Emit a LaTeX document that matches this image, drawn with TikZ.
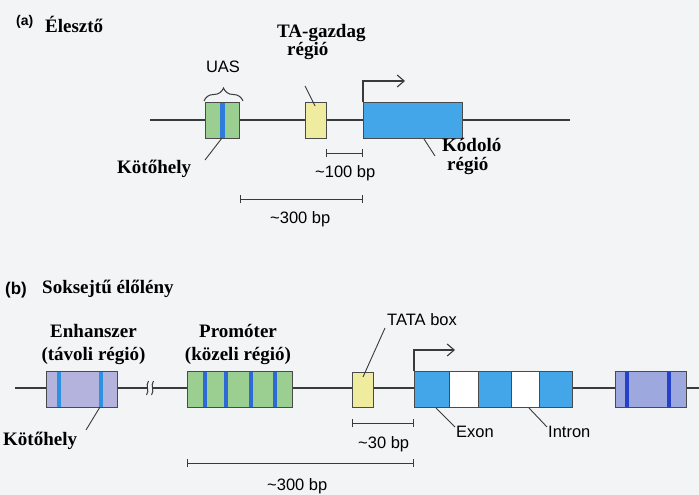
\documentclass[tikz,border=0pt]{standalone}
\usepackage{fontspec}
\setmainfont{Liberation Serif}
\newfontfamily\lsans{Liberation Sans}
\usetikzlibrary{arrows.meta,decorations.pathreplacing}
\definecolor{bg}{HTML}{F3F4F6}
\definecolor{linec}{HTML}{3A3A3A}
\definecolor{boxc}{HTML}{4A4A4A}
\definecolor{grn}{HTML}{9BCF91}
\definecolor{yel}{HTML}{EFEC9F}
\definecolor{cod}{HTML}{42A6E8}
\definecolor{lav}{HTML}{B3B3DD}
\definecolor{lav2}{HTML}{9DA8DE}
\definecolor{stripeA}{HTML}{2F7BDB}
\definecolor{stripeE}{HTML}{2E90E0}
\definecolor{stripeP}{HTML}{2D6AD6}
\definecolor{stripeR}{HTML}{2541C9}
\begin{document}
\begin{tikzpicture}[x=1pt,y=-1pt,
  dna/.style={draw=linec,line width=1.3pt},
  box/.style={draw=boxc,line width=0.9pt,inner sep=0,outer sep=0},
  lbl/.style={font=\fontsize{19}{17}\selectfont\bfseries,inner sep=0},
  slbl/.style={font=\lsans\fontsize{16.5}{19}\selectfont,inner sep=0},
  lead/.style={draw=linec,line width=0.9pt},
  bar/.style={draw=linec,line width=1pt,{Bar[width=8pt]}-{Bar[width=8pt]}},
  tss/.style={draw=linec,line width=1.1pt,-{Straight Barb[length=7pt,width=12pt]}}]
\fill[bg] (0,0) rectangle (699,495);
\useasboundingbox (0,0) rectangle (699,495);

% ---------------- (a) ----------------
\node[font=\lsans\bfseries\fontsize{14}{16}\selectfont,inner sep=0,anchor=base west] (atag) at (16,26) {(a)};
\node[lbl,anchor=base west] (atitle) at (45,33) {Élesztő};

\coordinate (a0) at (150,120);
\coordinate (a1) at (570,120);
\draw[dna] (a0) -- (a1);

\node[box,fill=grn,minimum width=34pt,minimum height=36pt] (uas) at (222.5,120) {};
\fill[stripeA] (220,102) rectangle (225,138);
\draw[boxc,line width=0.9pt] (uas.south west) rectangle (uas.north east);
\node[box,fill=yel,minimum width=21pt,minimum height=36pt] (ta) at (315.5,120) {};
\node[box,fill=cod,minimum width=99pt,minimum height=36pt] (cod) at (412.5,120) {};

\coordinate (br0) at (204,101);
\coordinate (br1) at (243,101);
\draw[linec,line width=1pt,decorate,decoration={brace,amplitude=13pt,aspect=0.5}] (br0) -- (br1);
\node[slbl,anchor=base] (uaslbl) at (223,73) {UAS};

\node[lbl,anchor=base west,align=left] (tal) at (277,56) {TA-gazdag\\\hspace*{10pt}régió};
\coordinate (tlA) at (315,106);
\coordinate (tlB) at (305,86);
\draw[lead] (tlA) -- (tlB);

\coordinate (arA) at (363,81);
\coordinate (arB) at (405,81);
\draw[tss] (cod.north west) -- (arA) -- (arB);

\node[lbl,anchor=base west] (kota) at (117,173) {Kötőhely};
\coordinate (kaA) at (222,138);
\coordinate (kaB) at (205,160);
\draw[lead] (kaA) -- (kaB);

\node[font=\fontsize{19}{18.5}\selectfont\bfseries,inner sep=0,anchor=base west,align=left] (kod) at (442,170) {Kódoló\\\hspace*{5pt}régió};
\coordinate (kdA) at (424,139);
\coordinate (kdB) at (435,156);
\draw[lead] (kdA) -- (kdB);

\coordinate (s1a) at (326,153);
\coordinate (s1b) at (363,153);
\draw[bar] (s1a) -- (s1b);
\node[slbl,anchor=base west] (s1l) at (315,177) {\textasciitilde100 bp};
\coordinate (s2a) at (240,199);
\coordinate (s2b) at (363,199);
\draw[bar] (s2a) -- (s2b);
\node[slbl,anchor=base west] (s2l) at (270,223) {\textasciitilde300 bp};

% ---------------- (b) ----------------
\node[font=\lsans\bfseries\fontsize{17}{19}\selectfont,inner sep=0,anchor=base west] (btag) at (5,294) {(b)};
\node[lbl,anchor=base west] (btitle) at (42,293) {Soksejtű élőlény};

\coordinate (b0) at (15,388);
\coordinate (b1) at (699,388);
\draw[dna] (b0) -- (b1);
% break mark
\fill[bg] (147.5,384) rectangle (151.5,392);
\draw[linec,line width=1pt] (148.5,381) .. controls (145,385.5) and (150,390.5) .. (146.5,395);
\draw[linec,line width=1pt] (153.5,381) .. controls (150,385.5) and (155,390.5) .. (151.5,395);

\node[box,fill=lav,minimum width=71pt,minimum height=36pt] (enh) at (81.5,389) {};
\fill[stripeE] (56.5,371) rectangle (60.5,407);
\fill[stripeE] (99,371) rectangle (103,407);
\draw[boxc,line width=0.9pt] (enh.south west) rectangle (enh.north east);

\node[box,fill=grn,minimum width=105pt,minimum height=36pt] (prom) at (239.5,389) {};
\foreach \sx in {205,226,251,275} {\fill[stripeP] (\sx-2,371) rectangle (\sx+2,407);}
\draw[boxc,line width=0.9pt] (prom.south west) rectangle (prom.north east);

\node[lbl,anchor=base] (enl1) at (93.5,337) {Enhanszer};
\node[lbl,anchor=base] (enl2) at (93.5,360) {(távoli régió)};
\node[lbl,anchor=base] (prl1) at (238,337) {Promóter};
\node[lbl,anchor=base] (prl2) at (238,360) {(közeli régió)};

\node[lbl,anchor=base west] (kotb) at (3,445) {Kötőhely};
\coordinate (kbA) at (100,407);
\coordinate (kbB) at (86,430);
\draw[lead] (kbA) -- (kbB);

\node[box,fill=yel,minimum width=21pt,minimum height=35pt] (tata) at (362.5,389.5) {};
\node[slbl,anchor=base west] (tatal) at (387,325) {TATA box};
\coordinate (ttA) at (363,377);
\coordinate (ttB) at (385,328);
\draw[lead] (ttA) -- (ttB);

\node[box,fill=cod,minimum width=35pt,minimum height=36pt] (ex1) at (431.5,389) {};
\node[box,fill=white,minimum width=29pt,minimum height=36pt] (in1) at (463.5,389) {};
\node[box,fill=cod,minimum width=33pt,minimum height=36pt] (ex2) at (494.5,389) {};
\node[box,fill=white,minimum width=28pt,minimum height=36pt] (in2) at (525,389) {};
\node[box,fill=cod,minimum width=33pt,minimum height=36pt] (ex3) at (555.5,389) {};

\coordinate (brA) at (414,350);
\coordinate (brB) at (455,350);
\draw[tss] (ex1.north west) -- (brA) -- (brB);

\node[slbl,anchor=base west] (exl) at (456,437) {Exon};
\coordinate (exA) at (436,408);
\coordinate (exB) at (455,427);
\draw[lead] (exA) -- (exB);
\node[slbl,anchor=base west] (inl) at (548,437) {Intron};
\coordinate (inA) at (529,408);
\coordinate (inB) at (547,427);
\draw[lead] (inA) -- (inB);

\node[box,fill=lav2,minimum width=71pt,minimum height=36pt] (rbox) at (650.5,389) {};
\fill[stripeR] (625,371) rectangle (629,407);
\fill[stripeR] (667,371) rectangle (671,407);
\draw[boxc,line width=0.9pt] (rbox.south west) rectangle (rbox.north east);

\coordinate (s3a) at (352,423);
\coordinate (s3b) at (414,423);
\draw[bar] (s3a) -- (s3b);
\node[slbl,anchor=base west] (s3l) at (358,448) {\textasciitilde30 bp};
\coordinate (s4a) at (187,463);
\coordinate (s4b) at (414,463);
\draw[bar] (s4a) -- (s4b);
\node[slbl,anchor=base west] (s4l) at (267,490) {\textasciitilde300 bp};
\end{tikzpicture}
\end{document}
